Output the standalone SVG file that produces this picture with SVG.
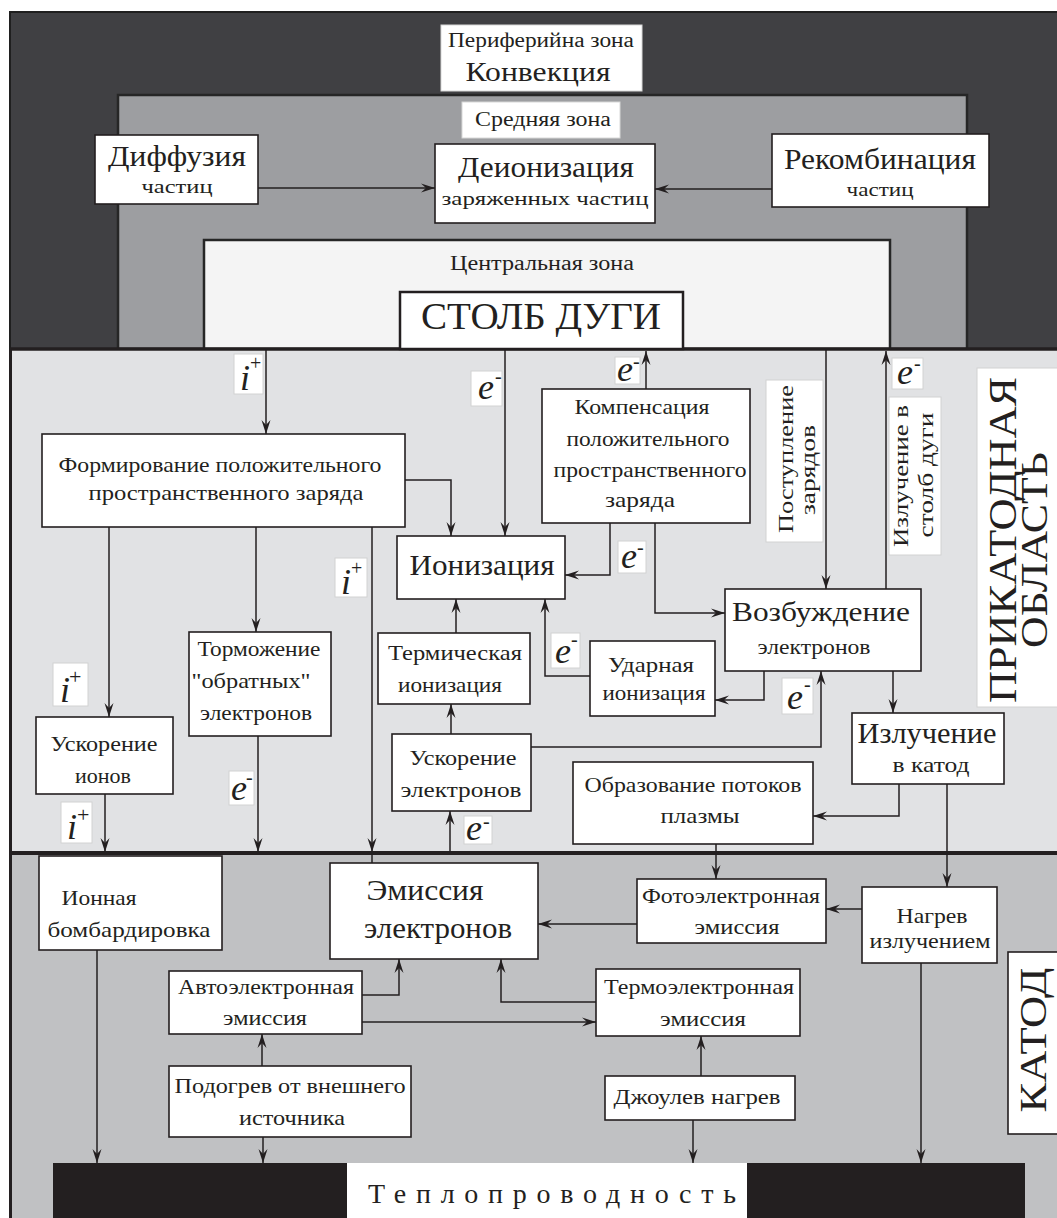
<svg xmlns="http://www.w3.org/2000/svg" width="1057" height="1218" viewBox="0 0 1057 1218">
<defs>
<marker id="ah" viewBox="-15 -6 16 12" refX="0" refY="0" markerWidth="16" markerHeight="12" markerUnits="userSpaceOnUse" orient="auto">
<path d="M0,0 L-14,-4.5 L-9,0 L-14,4.5 Z" fill="#231f20"/>
</marker>
<style>
.box{fill:#fff;stroke:#231f20;stroke-width:1.6}
.lb{fill:#fff;stroke:#d2d2d2;stroke-width:1}
.t{font-family:"Liberation Serif","DejaVu Serif","Times New Roman",serif;fill:#231f20;text-anchor:middle}
.m{font-size:21px}
.L{font-size:29px}
.s{font-size:19px}
.c{fill:none;stroke:#231f20;stroke-width:1.5}
.a{marker-end:url(#ah)}
.e{font-family:"Liberation Serif","DejaVu Serif",serif;font-style:italic;font-size:36px;fill:#231f20}
.sp{font-family:"Liberation Serif","DejaVu Serif",serif;font-size:20px;fill:#231f20}
</style>
</defs>
<rect width="1057" height="1218" fill="#fff"/>

<g id="zone-peripheral">
<rect x="10" y="12" width="1052" height="337" fill="#404043" stroke="#1f1f1f" stroke-width="2"/>
<rect x="441" y="25" width="201" height="66" fill="#fff" stroke="#d8d8d8"/>
<text class="t" style="font-size:20px" x="541" y="47" textLength="186" lengthAdjust="spacingAndGlyphs">Периферийна зона</text>
<text class="t" style="font-size:27px" x="538" y="81" textLength="145" lengthAdjust="spacingAndGlyphs">Конвекция</text>
</g>
<g id="zone-middle">
<rect x="118" y="95" width="849" height="254" fill="#9d9ea1" stroke="#262626" stroke-width="2.5"/>
<rect x="462" y="102" width="158" height="36" fill="#fff" stroke="#d8d8d8"/>
<text class="t" style="font-size:20px" x="543" y="126" textLength="136" lengthAdjust="spacingAndGlyphs">Средняя зона</text>
</g>
<g id="zone-central">
<rect x="204" y="240" width="686" height="109" fill="#f4f4f4" stroke="#262626" stroke-width="2.5"/>
<text class="t" style="font-size:20px" x="542" y="270" textLength="184" lengthAdjust="spacingAndGlyphs">Центральная зона</text>
</g>
<g id="zone-nearcathode">
<rect x="10" y="349" width="1052" height="504" fill="#e1e2e4"/>
</g>
<g id="zone-cathode">
<rect x="10" y="853" width="1052" height="370" fill="#c0c1c3"/>
</g>
<g id="zone-lines" stroke="#231f20" fill="none">
<line x1="10" y1="349" x2="1057" y2="349" stroke-width="3.5"/>
<line x1="10" y1="853" x2="1057" y2="853" stroke-width="4"/>
<line x1="10.5" y1="349" x2="10.5" y2="1218" stroke-width="3"/>
</g>

<g id="connectors">
<path class="c a" d="M258,188 H435"/>
<path class="c a" d="M772,189 H655"/>
<path class="c a" d="M266,349 V434"/>
<path class="c a" d="M505,349 V536"/>
<path class="c a" d="M646,389 V351"/>
<path class="c a" d="M826,349 V589"/>
<path class="c a" d="M886,589 V351"/>
<path class="c a" d="M405,480 H451 V536"/>
<path class="c a" d="M109,527 V717"/>
<path class="c a" d="M256,527 V632"/>
<path class="c a" d="M372,527 V852"/>
<path class="c" d="M372,852 V863"/>
<path class="c a" d="M610,523 V575 H565"/>
<path class="c a" d="M655,523 V613 H725"/>
<path class="c a" d="M456,633 V599"/>
<path class="c a" d="M590,676 H545 V599"/>
<path class="c a" d="M764,671 V700 H715"/>
<path class="c a" d="M531,747 H821 V671"/>
<path class="c a" d="M893,671 V713"/>
<path class="c a" d="M451,734 V704"/>
<path class="c a" d="M450,853 V811"/>
<path class="c a" d="M105,794 V852"/>
<path class="c a" d="M258,736 V852"/>
<path class="c a" d="M899,784 V816 H813"/>
<path class="c a" d="M947,784 V887"/>
<path class="c a" d="M716,844 V879"/>
<path class="c a" d="M637,924 H538"/>
<path class="c a" d="M862,909 H826"/>
<path class="c a" d="M362,995 H399 V959"/>
<path class="c a" d="M362,1022 H596"/>
<path class="c a" d="M596,1002 H501 V959"/>
<path class="c a" d="M262,1066 V1034"/>
<path class="c a" d="M263,1137 V1163"/>
<path class="c a" d="M97,950 V1163"/>
<path class="c a" d="M701,1076 V1036"/>
<path class="c a" d="M693,1120 V1163"/>
<path class="c a" d="M921,963 V1163"/>
</g>

<g id="n-diffusion">
<rect class="box" x="95" y="135" width="163" height="69"/>
<text class="t L" x="177" y="166" textLength="138" lengthAdjust="spacingAndGlyphs">Диффузия</text>
<text class="t s" x="177" y="193" textLength="71" lengthAdjust="spacingAndGlyphs">частиц</text>
</g>
<g id="n-deionization">
<rect class="box" x="435" y="144" width="220" height="79"/>
<text class="t L" x="546" y="177" textLength="176" lengthAdjust="spacingAndGlyphs">Деионизация</text>
<text class="t s" x="545" y="205" textLength="207" lengthAdjust="spacingAndGlyphs">заряженных  частиц</text>
</g>
<g id="n-recombination">
<rect class="box" x="772" y="134" width="217" height="73"/>
<text class="t L" x="880" y="169" textLength="192" lengthAdjust="spacingAndGlyphs">Рекомбинация</text>
<text class="t s" x="880" y="196" textLength="67" lengthAdjust="spacingAndGlyphs">частиц</text>
</g>
<g id="n-arc">
<rect x="400" y="292" width="283" height="57" fill="#fff" stroke="#231f20" stroke-width="2.5"/>
<text class="t" style="font-size:38px" x="541" y="329" textLength="240" lengthAdjust="spacingAndGlyphs">СТОЛБ ДУГИ</text>
</g>

<g id="n-formation">
<rect class="box" x="42" y="434" width="363" height="93"/>
<text class="t m" x="220" y="472" textLength="323" lengthAdjust="spacingAndGlyphs">Формирование положительного</text>
<text class="t m" x="226" y="500" textLength="275" lengthAdjust="spacingAndGlyphs">пространственного заряда</text>
</g>
<g id="n-ionization">
<rect class="box" x="397" y="536" width="168" height="63"/>
<text class="t" style="font-size:30px" x="482" y="575" textLength="145" lengthAdjust="spacingAndGlyphs">Ионизация</text>
</g>
<g id="n-compensation">
<rect class="box" x="542" y="389" width="208" height="134"/>
<text class="t m" x="642" y="414" textLength="135" lengthAdjust="spacingAndGlyphs">Компенсация</text>
<text class="t m" x="648" y="446" textLength="163" lengthAdjust="spacingAndGlyphs">положительного</text>
<text class="t m" x="650" y="477" textLength="193" lengthAdjust="spacingAndGlyphs">пространственного</text>
<text class="t m" x="640" y="507" textLength="70" lengthAdjust="spacingAndGlyphs">заряда</text>
</g>
<g id="n-supply">
<rect class="lb" x="766" y="380" width="57" height="162"/>
<text class="t m" transform="translate(793,459) rotate(-90)" textLength="148" lengthAdjust="spacingAndGlyphs">Поступление</text>
<text class="t m" transform="translate(815,470) rotate(-90)" textLength="90" lengthAdjust="spacingAndGlyphs">зарядов</text>
</g>
<g id="n-radiation-arc">
<rect class="lb" x="889" y="397" width="52" height="158"/>
<text class="t m" transform="translate(908,476) rotate(-90)" textLength="142" lengthAdjust="spacingAndGlyphs">Излучение в</text>
<text class="t m" transform="translate(933,475) rotate(-90)" textLength="125" lengthAdjust="spacingAndGlyphs">столб дуги</text>
</g>
<g id="n-region-label">
<rect class="lb" x="977" y="368" width="90" height="339"/>
<text class="t" style="font-size:40px" transform="translate(1016,540) rotate(-90)" textLength="326" lengthAdjust="spacingAndGlyphs">ПРИКАТОДНАЯ</text>
<text class="t" style="font-size:37px" transform="translate(1047,550) rotate(-90)" textLength="196" lengthAdjust="spacingAndGlyphs">ОБЛАСТЬ</text>
</g>
<g id="n-excitation">
<rect class="box" x="725" y="589" width="196" height="82"/>
<text class="t" style="font-size:28px" x="821" y="621" textLength="178" lengthAdjust="spacingAndGlyphs">Возбуждение</text>
<text class="t m" x="814" y="654" textLength="113" lengthAdjust="spacingAndGlyphs">электронов</text>
</g>
<g id="n-impact">
<rect class="box" x="590" y="641" width="125" height="75"/>
<text class="t m" x="651" y="672" textLength="86" lengthAdjust="spacingAndGlyphs">Ударная</text>
<text class="t m" x="654" y="700" textLength="103" lengthAdjust="spacingAndGlyphs">ионизация</text>
</g>
<g id="n-thermal-ion">
<rect class="box" x="378" y="633" width="152" height="71"/>
<text class="t m" x="455" y="660" textLength="134" lengthAdjust="spacingAndGlyphs">Термическая</text>
<text class="t m" x="450" y="692" textLength="104" lengthAdjust="spacingAndGlyphs">ионизация</text>
</g>
<g id="n-electron-acc">
<rect class="box" x="392" y="734" width="139" height="77"/>
<text class="t m" x="463" y="765" textLength="107" lengthAdjust="spacingAndGlyphs">Ускорение</text>
<text class="t m" x="461" y="797" textLength="121" lengthAdjust="spacingAndGlyphs">электронов</text>
</g>
<g id="n-ion-acc">
<rect class="box" x="36" y="717" width="137" height="77"/>
<text class="t m" x="104" y="751" textLength="107" lengthAdjust="spacingAndGlyphs">Ускорение</text>
<text class="t m" x="103" y="783" textLength="56" lengthAdjust="spacingAndGlyphs">ионов</text>
</g>
<g id="n-braking">
<rect class="box" x="189" y="632" width="142" height="104"/>
<text class="t m" x="259" y="656" textLength="123" lengthAdjust="spacingAndGlyphs">Торможение</text>
<text class="t m" x="251" y="688" textLength="119" lengthAdjust="spacingAndGlyphs">"обратных"</text>
<text class="t m" x="256" y="720" textLength="112" lengthAdjust="spacingAndGlyphs">электронов</text>
</g>
<g id="n-radiation-cathode">
<rect class="box" x="852" y="713" width="152" height="71"/>
<text class="t" style="font-size:29px" x="927" y="743" textLength="139" lengthAdjust="spacingAndGlyphs">Излучение</text>
<text class="t m" x="931" y="772" textLength="77" lengthAdjust="spacingAndGlyphs">в катод</text>
</g>
<g id="n-plasma">
<rect class="box" x="573" y="762" width="240" height="82"/>
<text class="t m" x="693" y="792" textLength="217" lengthAdjust="spacingAndGlyphs">Образование потоков</text>
<text class="t m" x="700" y="823" textLength="79" lengthAdjust="spacingAndGlyphs">плазмы</text>
</g>

<g id="n-ion-bombard">
<rect class="box" x="39" y="856" width="183" height="94"/>
<text class="t m" x="99" y="905" textLength="75" lengthAdjust="spacingAndGlyphs">Ионная</text>
<text class="t m" x="129" y="937" textLength="163" lengthAdjust="spacingAndGlyphs">бомбардировка</text>
</g>
<g id="n-emission">
<rect class="box" x="330" y="863" width="208" height="96"/>
<text class="t" style="font-size:29px" x="425" y="900" textLength="117" lengthAdjust="spacingAndGlyphs">Эмиссия</text>
<text class="t" style="font-size:29px" x="438" y="938" textLength="148" lengthAdjust="spacingAndGlyphs">электронов</text>
</g>
<g id="n-photo">
<rect class="box" x="637" y="879" width="189" height="64"/>
<text class="t m" x="731" y="903" textLength="178" lengthAdjust="spacingAndGlyphs">Фотоэлектронная</text>
<text class="t m" x="737" y="934" textLength="85" lengthAdjust="spacingAndGlyphs">эмиссия</text>
</g>
<g id="n-rad-heating">
<rect class="box" x="862" y="887" width="135" height="76"/>
<text class="t m" x="932" y="923" textLength="71" lengthAdjust="spacingAndGlyphs">Нагрев</text>
<text class="t m" x="930" y="948" textLength="121" lengthAdjust="spacingAndGlyphs">излучением</text>
</g>
<g id="n-auto">
<rect class="box" x="169" y="971" width="193" height="63"/>
<text class="t m" x="266" y="994" textLength="176" lengthAdjust="spacingAndGlyphs">Автоэлектронная</text>
<text class="t m" x="265" y="1025" textLength="84" lengthAdjust="spacingAndGlyphs">эмиссия</text>
</g>
<g id="n-thermo">
<rect class="box" x="596" y="969" width="204" height="67"/>
<text class="t m" x="699" y="994" textLength="190" lengthAdjust="spacingAndGlyphs">Термоэлектронная</text>
<text class="t m" x="703" y="1026" textLength="86" lengthAdjust="spacingAndGlyphs">эмиссия</text>
</g>
<g id="n-ext-heating">
<rect class="box" x="169" y="1066" width="242" height="71"/>
<text class="t m" x="290" y="1093" textLength="231" lengthAdjust="spacingAndGlyphs">Подогрев от внешнего</text>
<text class="t m" x="292" y="1125" textLength="106" lengthAdjust="spacingAndGlyphs">источника</text>
</g>
<g id="n-joule">
<rect class="box" x="605" y="1076" width="190" height="44"/>
<text class="t m" x="697" y="1104" textLength="167" lengthAdjust="spacingAndGlyphs">Джоулев  нагрев</text>
</g>
<g id="n-cathode-label">
<rect class="box" x="1008" y="952" width="60" height="182"/>
<text class="t" style="font-size:37px" transform="translate(1046,1040) rotate(-90)" textLength="145" lengthAdjust="spacingAndGlyphs">КАТОД</text>
</g>
<g id="n-conduction">
<rect x="53" y="1163" width="972" height="60" fill="#231f20"/>
<rect x="347" y="1163" width="400" height="60" fill="#fff"/>
<text class="t" style="font-size:28px" x="552" y="1203" textLength="368" lengthAdjust="spacing">Теплопроводность</text>
</g>

<g id="labels">
<rect class="lb" x="234" y="354" width="29" height="40"/><text class="e" x="240" y="390">i</text><text class="sp" x="250" y="370">+</text>
<rect class="lb" x="471" y="371" width="31" height="35"/><text class="e" x="478" y="399">e</text><text class="sp" x="495" y="383">-</text>
<rect class="lb" x="615" y="357" width="25" height="27"/><text class="e" x="617" y="381">e</text><text class="sp" x="633" y="368">-</text>
<rect class="lb" x="618" y="541" width="28" height="32"/><text class="e" x="621" y="568">e</text><text class="sp" x="637" y="554">-</text>
<rect class="lb" x="335" y="558" width="32" height="39"/><text class="e" x="341" y="594">i</text><text class="sp" x="351" y="575">+</text>
<rect class="lb" x="892" y="358" width="31" height="31"/><text class="e" x="897" y="384">e</text><text class="sp" x="914" y="370">-</text>
<rect class="lb" x="551" y="633" width="29" height="35"/><text class="e" x="555" y="663">e</text><text class="sp" x="571" y="646">-</text>
<rect class="lb" x="782" y="678" width="31" height="36"/><text class="e" x="787" y="709">e</text><text class="sp" x="804" y="691">-</text>
<rect class="lb" x="53" y="663" width="35" height="43"/><text class="e" x="60" y="702">i</text><text class="sp" x="69" y="684" style="font-size:22px">+</text>
<rect class="lb" x="61" y="802" width="31" height="41"/><text class="e" x="67" y="839">i</text><text class="sp" x="77" y="822" style="font-size:22px">+</text>
<rect class="lb" x="229" y="771" width="25" height="34"/><text class="e" x="231" y="800">e</text><text class="sp" x="246" y="784">-</text>
<rect class="lb" x="464" y="816" width="28" height="28"/><text class="e" x="466" y="840">e</text><text class="sp" x="483" y="828">-</text>
</g>
</svg>
